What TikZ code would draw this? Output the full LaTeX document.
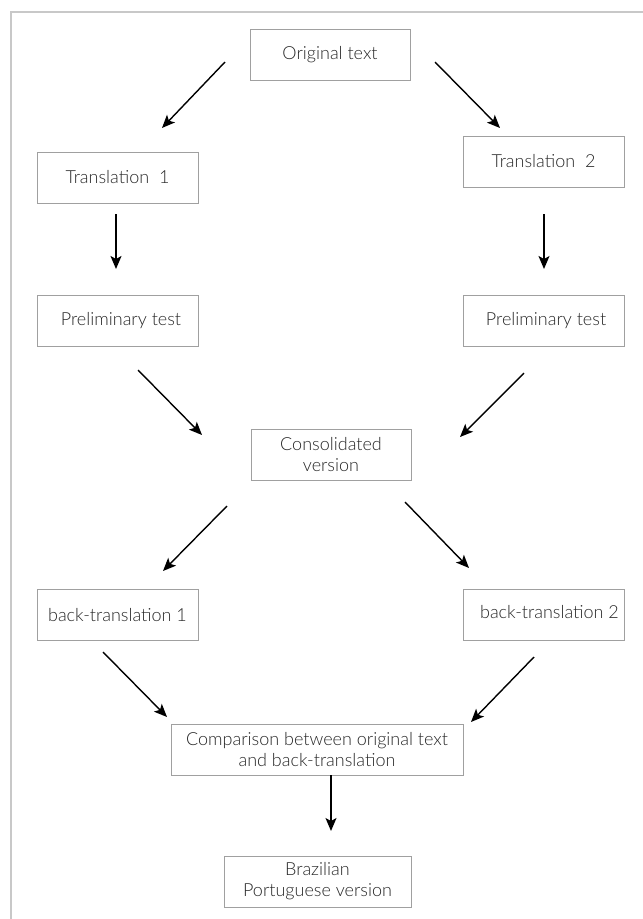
\documentclass[tikz,border=0pt]{standalone}
\usepackage{fontspec}
\setmainfont{Lato Light}
\usetikzlibrary{arrows.meta}
\definecolor{boxgray}{HTML}{A0A0A0}
\definecolor{txtgray}{HTML}{262626}
\definecolor{framegray}{HTML}{C8C8C8}
\begin{document}
\begin{tikzpicture}[x=1pt,y=-1pt,
  box/.style={draw=boxgray, line width=0.8pt, minimum width=161pt, minimum height=51pt,
    inner sep=0pt, text=txtgray, font=\fontsize{18}{21}\selectfont, align=center},
  arr/.style={-{Stealth[length=13pt,width=11pt,inset=3pt]}, line width=1.4pt, black}]
\useasboundingbox (0,0) rectangle (643,919);
\draw[framegray, line width=1.2pt] (11,919) -- (11,12) -- (643,12);
% boxes
\node[box, minimum width=160pt] (orig) at (330,54.5) {\raisebox{2pt}{Original text}};
\node[box] (t1) at (117.5,177.5) {\raisebox{1pt}{Translation\ \ 1}};
\node[box] (t2) at (543.5,162) {\raisebox{3pt}{Translation\ \ 2}};
\node[box] (p1) at (117.5,320.5) {\hspace{7pt}\raisebox{2pt}{Preliminary test}};
\node[box] (p2) at (543.5,320.5) {\hspace{5pt}\raisebox{2pt}{Preliminary test}};
\node[box, minimum width=160pt] (cons) at (331,454.5) {Consolidated\\version};
\node[box] (b1) at (117.5,615) {back-translation 1};
\node[box] (b2) at (543.5,615) {\hspace{12pt}\raisebox{6pt}{back-translation 2}};
\node[box, minimum width=292pt] (comp) at (317,749.5) {Comparison between original text\\and back-translation};
\node[box, minimum width=187pt] (braz) at (317.5,881.5) {Brazilian\\Portuguese version};
% arrow ends
\coordinate (oL) at (225,62);   \coordinate (t1top) at (162,128);
\coordinate (oR) at (435,62);   \coordinate (t2top) at (500,128);
\coordinate (t1b) at (116,214); \coordinate (p1top) at (116,269);
\coordinate (t2b) at (544,214); \coordinate (p2top) at (544,269);
\coordinate (p1b) at (138,370); \coordinate (cL) at (202,435);
\coordinate (p2b) at (524,373); \coordinate (cR) at (460,437);
\coordinate (cbL) at (227,506); \coordinate (b1top) at (163,571);
\coordinate (cbR) at (405,502); \coordinate (b2top) at (469,568);
\coordinate (b1b) at (103,652); \coordinate (compL) at (167,717);
\coordinate (b2b) at (534,657); \coordinate (compR) at (471,722);
\coordinate (compb) at (331,775); \coordinate (braztop) at (331,831);
% arrows
\draw[arr] (oL) -- (t1top);
\draw[arr] (oR) -- (t2top);
\draw[arr] (t1b) -- (p1top);
\draw[arr] (t2b) -- (p2top);
\draw[arr] (p1b) -- (cL);
\draw[arr] (p2b) -- (cR);
\draw[arr] (cbL) -- (b1top);
\draw[arr] (cbR) -- (b2top);
\draw[arr] (b1b) -- (compL);
\draw[arr] (b2b) -- (compR);
\draw[arr] (compb) -- (braztop);
\end{tikzpicture}
\end{document}
